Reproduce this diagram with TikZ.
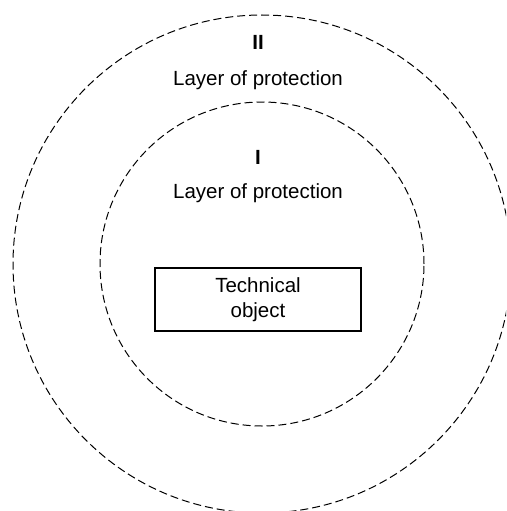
\documentclass[tikz,border=0pt]{standalone}
\usepackage{fontspec}
\setmainfont{Liberation Sans}
\usetikzlibrary{positioning}

\begin{document}
\begin{tikzpicture}[x=1pt, y=-1pt,
                layer/.style={draw, circle, dash pattern=on 8pt off 4pt, line width=1pt,
                              inner sep=0pt},
                layertext/.style={font=\fontsize{20.5}{24}\selectfont, inner sep=0pt},
                objbox/.style={draw, line width=1.2pt, minimum width=206pt, minimum height=63pt,
                               align=center, font=\fontsize{20.5}{25}\selectfont}]

                % Frame
                \useasboundingbox (0,0) rectangle (506,511);
                \clip (0,0) rectangle (506,511);

                % Layers of protection
                \node[layer, minimum size=498pt] (outer) at (262,264) {};
                \node[layer, minimum size=324pt] (inner) at (262,264) {};

                % Protected object
                \node[objbox] (object) at (258,299.5) {Technical\\object};

                % Labels
                \node[layertext, font=\fontsize{20.5}{24}\selectfont\bfseries] (outernum) at (258,42) {II};
                \node[layertext] (outername) at (258,80) {Layer of protection};
                \node[layertext, font=\fontsize{20.5}{24}\selectfont\bfseries] (innernum) at (258,157) {I};
                \node[layertext] (innername) at (258,193) {Layer of protection};
            \end{tikzpicture}
\end{document}
